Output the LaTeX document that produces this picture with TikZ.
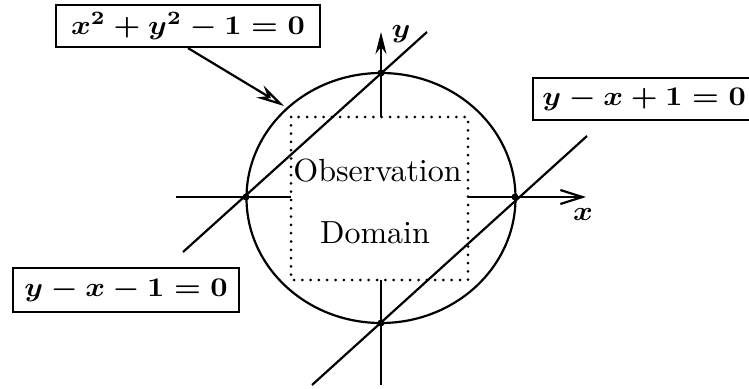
\documentclass[tikz,border=0pt]{standalone}
\usepackage{amsmath}
\usepackage{graphicx}
\usetikzlibrary{arrows.meta,calc}
\newcommand{\eqtext}[1]{\scalebox{3.0}[2.7]{\boldmath$#1$}}
\newcommand{\romtext}[1]{\scalebox{3.2}{#1}}
\tikzset{
  thin line/.style={line width=2.2pt},
  eqbox/.style={draw, line width=2.2pt, inner sep=0pt, font=\fontsize{10}{12}\selectfont},
  dot/.style={circle, fill=black, inner sep=0pt, minimum size=7pt},
  dotbox/.style={line width=3pt, line cap=round, dash pattern=on 0pt off 8.3pt},
  axisx/.style={line width=2.2pt, -{Straight Barb[length=22pt,width=14pt,line width=2.2pt]}},
  axisy/.style={line width=2.2pt, -{Stealth[length=22pt,width=11pt,inset=7pt]}},
  pointer/.style={line width=2.2pt, -{Stealth[open,length=28pt,width=14pt,inset=9pt,line width=2.2pt]}},
  roman/.style={font=\fontsize{10}{12}\selectfont, inner sep=0pt},
  axlabel/.style={font=\fontsize{10}{12}\selectfont, inner sep=0pt}
}
\begin{document}
\begin{tikzpicture}[x=1pt,y=-1pt]
\useasboundingbox (0,0) rectangle (749,388);
\clip (0,0) rectangle (749,388);
% circle
\draw[thin line] (381,198) ellipse [x radius=134.5pt, y radius=125pt];
% intersection points
\node[dot] (L) at (246,197) {};
\node[dot] (T) at (381,73) {};
\node[dot] (R) at (515,197) {};
\node[dot] (B) at (381,323) {};
% axes
\coordinate (xa) at (176,197);
\coordinate (xb) at (291,197);
\coordinate (xc) at (468,197);
\coordinate (xd) at (586,197);
\coordinate (ya) at (381,117);
\coordinate (yb) at (381,32);
\coordinate (yc) at (381,280);
\coordinate (yd) at (381,385);
\draw[thin line] (xa) -- (xb);
\draw[axisx] (xc) -- (xd);
\draw[axisy] (ya) -- (yb);
\draw[thin line] (yc) -- (yd);
\node[axlabel] (xlab) at (583,214) {\eqtext{x}};
\node[axlabel] (ylab) at (401,34) {\eqtext{y}};
% lines
\coordinate (a1) at (183,252);
\coordinate (a2) at (427,32);
\coordinate (b1) at (312,385);
\coordinate (b2) at (587,136);
\draw[thin line] (a1) -- (a2);
\draw[thin line] (b1) -- (b2);
% observation domain
\draw[dotbox] (291,117) rectangle (468,280);
\node[roman, anchor=base] (obs) at (377.5,181) {\romtext{Observation}};
\node[roman, anchor=base] (dom) at (375,243) {\romtext{Domain}};
% labels
\node[eqbox, minimum width=264pt, minimum height=42pt] (c) at (188,26) {\eqtext{x^2+y^2-1=0}};
\node[eqbox, minimum width=222pt, minimum height=42pt, anchor=west] (l2) at (532,99) {\eqtext{y-x+1=0}};
\node[eqbox, minimum width=226pt, minimum height=44pt] (l1) at (126,290) {\eqtext{y-x-1=0}};
\coordinate (tgt) at (284,106);
\draw[pointer] (c.south) -- (tgt);
\end{tikzpicture}
\end{document}
